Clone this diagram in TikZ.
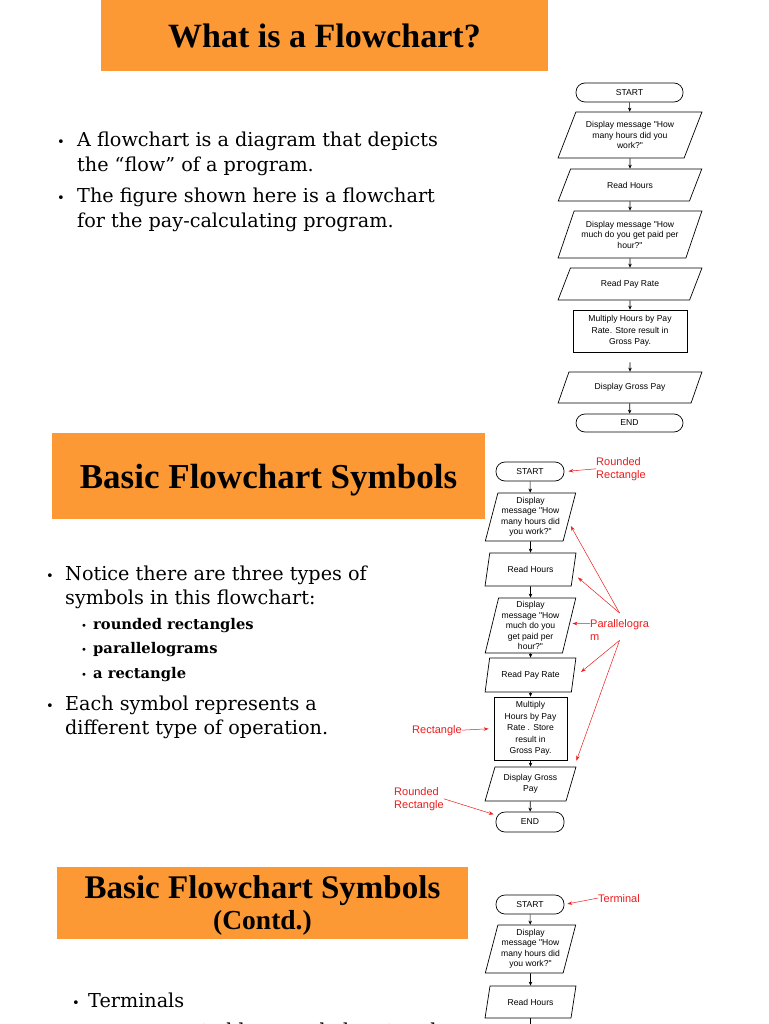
\documentclass[tikz,border=0pt]{standalone}
\usepackage{fontspec}
\setmainfont{DejaVu Serif}
\newfontfamily\titlefont{Liberation Serif}
\newfontfamily\chartfont{Liberation Sans}
\usetikzlibrary{shapes.geometric,arrows.meta}
\definecolor{slideorange}{RGB}{252,153,52}
\definecolor{labelred}{RGB}{238,28,28}

\begin{document}
\begin{tikzpicture}[x=1pt,y=-1pt,
		title/.style={font=\titlefont\bfseries\fontsize{#1}{#1}\selectfont, anchor=base, inner sep=0pt},
		body/.style={font=\fontsize{19.2}{24}\selectfont, anchor=base west, inner sep=0pt},
		subitem/.style={font=\bfseries\fontsize{14.7}{18}\selectfont, anchor=base west, inner sep=0pt},
		bul/.style={font=\fontsize{#1}{#1}\selectfont, anchor=base, inner sep=0pt},
		chart/.style={font=\chartfont\fontsize{8.6}{10.5}\selectfont, align=center, inner sep=0pt, draw, line width=0.7pt},
		term/.style={chart, rounded corners=9pt, minimum height=19pt},
		para/.style 2 args={chart, shape=trapezium, trapezium left angle=#1, trapezium right angle=#2, trapezium stretches=true},
		box/.style={chart, rectangle, font=\chartfont\fontsize{8.6}{11.5}\selectfont},
		flow/.style={-{Stealth[length=4pt,width=3.5pt]}, line width=0.6pt},
		note/.style={font=\chartfont\fontsize{11}{13}\selectfont, text=labelred, align=left, inner sep=0pt},
		pointer/.style={labelred, line width=0.5pt, -{Stealth[length=5pt,width=3.5pt]}}
	]
	\useasboundingbox (0,0) rectangle (768,1024);
	\fill[white] (0,0) rectangle (768,1024);
	
	% Slide 1
	\fill[slideorange] (101,0) rectangle (548,71);
	\node[title=34] (title1) at (324.5,48) {What is a Flowchart?};
	\node[bul=13] (b11) at (61,147) {•};
	\node[body] (l11) at (77,147) {A flowchart is a diagram that depicts};
	\node[body] (l12) at (77,172) {the “flow” of a program.};
	\node[bul=13] (b12) at (61,203) {•};
	\node[body] (l13) at (77,203) {The figure shown here is a flowchart};
	\node[body] (l14) at (77,228) {for the pay-calculating program.};
	
	% Flowchart 1
	\node[term, minimum width=107pt] (start1) at (629.5,92.5) {START};
	\node[para={62}{118}, minimum width=144pt, minimum height=46pt] (ask1a) at (630,135) {Display message "How\\many hours did you\\work?"};
	\node[para={53}{127}, minimum width=144pt, minimum height=32pt] (read1a) at (630,185) {Read Hours};
	\node[para={63}{117}, minimum width=144pt, minimum height=47pt] (ask1b) at (630,234.5) {Display message "How\\much do you get paid per\\hour?"};
	\node[para={53}{127}, minimum width=144pt, minimum height=32pt] (read1b) at (630,284) {Read Pay Rate};
	\node[box, minimum width=114pt, minimum height=42pt] (calc1) at (630,331) {Multiply Hours by Pay\\Rate. Store result in\\Gross Pay.};
	\node[para={52}{128}, minimum width=144pt, minimum height=31pt] (show1) at (630,387.5) {Display Gross Pay};
	\node[term, minimum width=107pt, minimum height=18pt] (end1) at (629.5,423) {END};
	\draw[flow] (start1) -- (ask1a);
	\draw[flow] (ask1a) -- (read1a);
	\draw[flow] (read1a) -- (ask1b);
	\draw[flow] (ask1b) -- (read1b);
	\draw[flow] (read1b) -- (calc1);
	\draw[flow, shorten <=10pt] (calc1) -- (show1);
	\draw[flow] (show1) -- (end1);
	
	% Slide 2
	\fill[slideorange] (52,433) rectangle (485,519);
	\node[title=35] (title2) at (268.5,488) {Basic Flowchart Symbols};
	\node[bul=13] (b21) at (50,580) {•};
	\node[body] (l21) at (65,580) {Notice there are three types of};
	\node[bul=10] (b22) at (84,629) {•};
	\node[body] (l22) at (65,604) {symbols in this flowchart:};
	\node[subitem] (s21) at (93,629) {rounded rectangles};
	\node[bul=10] (b23) at (84,653) {•};
	\node[subitem] (s22) at (93,653) {parallelograms};
	\node[bul=10] (b24) at (84,678) {•};
	\node[subitem] (s23) at (93,678) {a rectangle};
	\node[bul=13] (b25) at (50,710) {•};
	\node[body] (l23) at (65,710) {Each symbol represents a};
	\node[body] (l24) at (65,734) {different type of operation.};
	
	% Flowchart 2
	\node[term, minimum width=68pt] (start2) at (530,471.5) {START};
	\node[para={74}{106}, minimum width=91pt, minimum height=48pt] (ask2a) at (530.5,517) {Display\\message "How\\many hours did\\you work?"};
	\node[para={67}{113}, minimum width=91pt, minimum height=33pt] (read2a) at (530.5,569.5) {Read Hours};
	\node[para={76}{104}, minimum width=91pt, minimum height=55pt] (ask2b) at (530.5,625.5) {Display\\message "How\\much do you\\get paid per\\hour?"};
	\node[para={68}{112}, minimum width=91pt, minimum height=34pt] (read2b) at (530.5,675) {Read Pay Rate};
	\node[box, minimum width=73pt, minimum height=63pt] (calc2) at (530.5,728.5) {Multiply\\Hours by Pay\\Rate . Store\\result in\\Gross Pay.};
	\node[para={68}{112}, minimum width=91pt, minimum height=34pt] (show2) at (530.5,784) {Display Gross\\Pay};
	\node[term, minimum width=68pt, minimum height=20pt] (end2) at (530,822) {END};
	\draw[flow] (start2) -- (ask2a);
	\draw[flow] (ask2a) -- (read2a);
	\draw[flow] (read2a) -- (ask2b);
	\draw[flow] (ask2b) -- (read2b);
	\draw[flow] (read2b) -- (calc2);
	\draw[flow] (calc2) -- (show2);
	\draw[flow] (show2) -- (end2);
	
	% Labels
	\node[note, anchor=north west] (lblround1) at (596,457) {Rounded\\Rectangle};
	\node[note, anchor=north west] (lblpara) at (590,619) {Parallelogra\\m};
	\node[note, anchor=base west] (lblrect) at (412,733) {Rectangle};
	\node[note, anchor=north west] (lblround2) at (394,787) {Rounded\\Rectangle};
	\draw[pointer, shorten >=4pt] (lblround1.west) -- (start2.east);
	\draw[pointer] ([yshift=6pt]lblpara.north) -- ([xshift=1pt,yshift=-9pt]ask2a.east);
	\draw[pointer] ([yshift=6pt]lblpara.north) -- ([xshift=4pt,yshift=-8pt]read2a.east);
	\draw[pointer] ([yshift=6pt]lblpara.west) -- ([xshift=3pt,yshift=2pt]ask2b.east);
	\draw[pointer] (lblpara.south) -- ([xshift=7pt,yshift=3pt]read2b.east);
	\draw[pointer] (lblpara.south) -- ([yshift=6pt]show2.top right corner);
	\draw[pointer, shorten >=5pt] (lblrect.east) -- (calc2.west);
	\draw[pointer, shorten >=2pt] (lblround2.east) -- ([yshift=7pt]end2.west);
	
	% Slide 3
	\fill[slideorange] (57,867) rectangle (468,939);
	\node[title=33] (title3) at (262.5,898) {Basic Flowchart Symbols};
	\node[title=27.5] (title3b) at (262.5,929) {(Contd.)};
	\node[bul=13] (b31) at (76,1007) {•};
	\node[body] (l31) at (88,1007) {Terminals};
	\node[bul=10] (b32) at (104,1037) {•};
	\node[body] (l32) at (114,1037) {represented by rounded rectangles};
	
	% Flowchart 3
	\node[term, minimum width=68pt] (start3) at (530,904.5) {START};
	\node[para={74}{106}, minimum width=91pt, minimum height=48pt] (ask3a) at (530.5,949) {Display\\message "How\\many hours did\\you work?"};
	\node[para={66}{114}, minimum width=91pt, minimum height=32pt] (read3a) at (530.5,1002) {Read Hours};
	\coordinate (next3) at (530.5,1040);
	\draw[flow] (start3) -- (ask3a);
	\draw[flow] (ask3a) -- (read3a);
	\draw[flow] (read3a) -- (next3);
	\node[note, anchor=base west] (lblterm) at (598,902) {Terminal};
	\draw[pointer, shorten >=3pt] (lblterm.west) -- (start3.east);
\end{tikzpicture}
\end{document}
